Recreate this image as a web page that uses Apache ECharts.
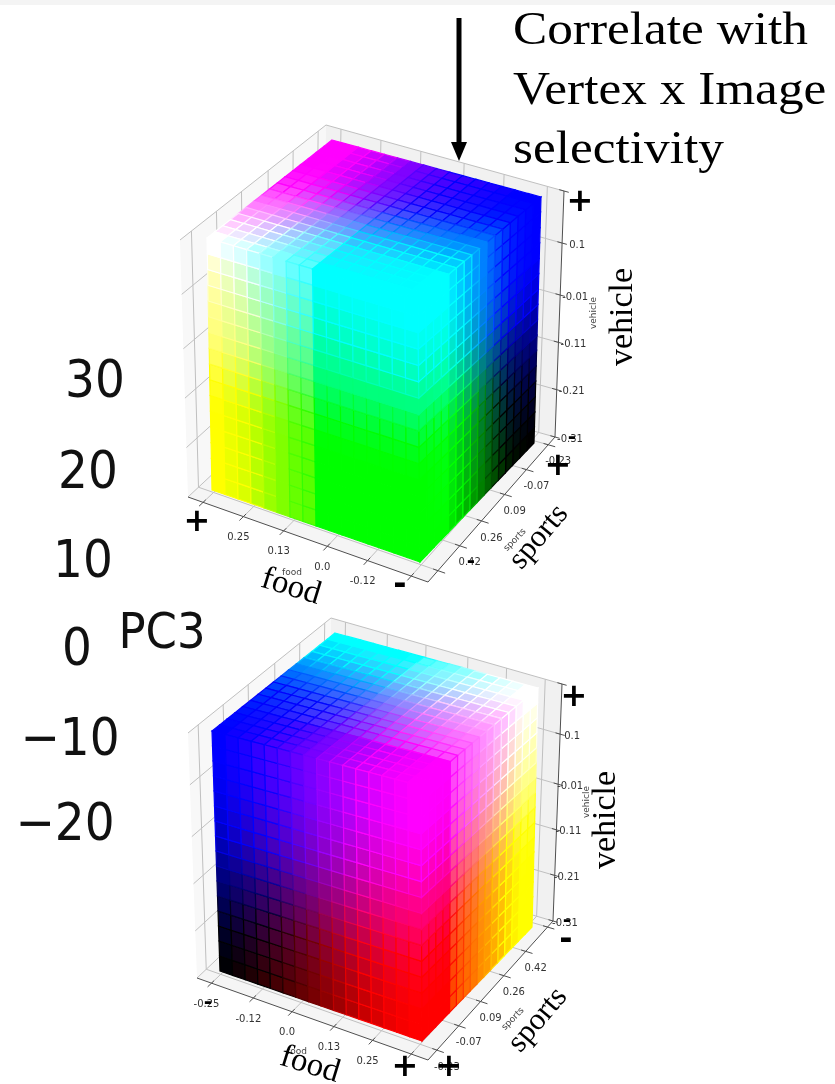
<!DOCTYPE html>
<html><head><meta charset="utf-8">
<style>html,body{margin:0;padding:0;background:#fff}
#c,#o{position:absolute;left:0;top:0;width:835px;height:1084px}
#c{filter:blur(0.45px)}</style>
<script src="https://cdn.jsdelivr.net/npm/echarts@6/dist/echarts.min.js"></script>
</head><body><div id="c"></div><div id="o"></div>
<script>
// ---------- colour channels read per voxel layer (16 voxels along each side) ----------
// upper cube
const topRedBack    = [1,1,.9,.8,.7,.6,.5,.42,.35,.28,.22,.16,.1,.05,0,0];
const topRedFront   = [1,.92,.85,.72,.6,.5,.4,.35,0,0,0,0,0,0,0,0];
const topGreenLeft  = [0,0,0,0,.02,.07,.15,.24,.33,.42,.5,.6,.7,.8,.9,1];
const topGreenRight = [0,.02,.05,.1,.2,.3,.4,.5,.6,.7,.8,.9,1,1,1,1];
const topBlueLeft   = [0,0,0,0,0,.02,.1,.22,.34,.44,.5,.55,.62,.7,.82,1];
const topBlueFront  = [0,0,0,0,0,.02,.1,.22,.36,.5,.63,.75,.86,.94,1,1];
const topBlueRight  = [0,.06,.14,.22,.3,.38,.47,.56,.66,.78,.88,.95,1,1,1,1];
// lower cube
const lowRedBack    = [0,0,0,0,0,0,.05,.3,.38,.45,.55,.65,.75,.85,.93,1];
const lowRedFront   = [0,.06,.12,.2,.27,.33,.4,.47,.55,.62,.7,.78,.85,.92,.97,1];
const lowGreenLeft  = [1,.9,.8,.72,.62,.52,.42,.33,.25,.2,.15,.11,.07,.04,.02,0];
const lowGreenRight = [1,1,.95,.85,.75,.68,.6,.55,.47,.42,.36,.28,0,0,0,0];
const lowBlueLeft   = [.02,.08,.15,.24,.32,.42,.5,.6,.7,.78,.85,.9,.95,.98,1,1];
const lowBlueFront  = [0,0,.03,.08,.15,.25,.35,.45,.55,.66,.76,.86,.94,1,1,1];
const lowBlueRight  = [0,0,0,0,0,.03,.1,.2,.32,.42,.52,.62,.7,.8,.9,1];
// ---------- axis ticks ----------
const topFoodTicks     = [0.37,0.25,0.13,0.0,-0.12,-0.25];
const topFoodLabels    = ['','0.25','0.13','0.0','-0.12',''];
const topSportsTicks   = [0.58,0.42,0.26,0.09,-0.07,-0.23];
const topSportsLabels  = ['','0.42','0.26','0.09','-0.07','-0.23'];
const lowFoodTicks     = [-0.25,-0.12,0.0,0.13,0.25,0.37];
const lowFoodLabels    = ['-0.25','-0.12','0.0','0.13','0.25',''];
const lowSportsTicks   = [-0.23,-0.07,0.09,0.26,0.42,0.58];
const lowSportsLabels  = ['-0.23','-0.07','0.09','0.26','0.42',''];
const vehicleTicks     = [-0.31,-0.21,-0.11,-0.01,0.1,0.21];
const vehicleLabels    = ['-0.31','-0.21','-0.11','-0.01','0.1',''];
const pcTickLabels     = ['30','20','10','0','\u221210','\u221220'];
const noteLines        = ['Correlate with','Vertex x Image','selectivity'];

// ---------- scene layout (picture-plane anchors of each box and voxel block) ----------
const scenes = [{
  box:{L0:[188,497],F0:[428,582],R0:[555,437],B0:[322,372],L1:[180,240],F1:[430,300],R1:[564,191],B1:[326,125]},
  cube:{L0:[212,490],F0:[420,562],R0:[534,443],B0:[335,385],L1:[207,238],F1:[418,300],R1:[541,197],B1:[332,140]},
  rB:topRedBack,rF:topRedFront,gL:topGreenLeft,gR:topGreenRight,bL:topBlueLeft,bF:topBlueFront,bR:topBlueRight,seamPow:3,
  food:{ticks:topFoodTicks,labels:topFoodLabels,a:v=>(0.415-v)/0.715},
  sports:{ticks:topSportsTicks,labels:topSportsLabels,b:v=>(v+0.28)/0.933},
  vOff:15
},{
  box:{L0:[197,978],F0:[428,1060],R0:[553,921],B0:[327,855],L1:[188,733],F1:[432,790],R1:[562,684],B1:[331,618]},
  cube:{L0:[220,971],F0:[422,1041],R0:[532,927],B0:[340,865],L1:[212,731],F1:[421,786],R1:[538,688],B1:[335,633]},
  rB:lowRedBack,rF:lowRedFront,gL:lowGreenLeft,gR:lowGreenRight,bL:lowBlueLeft,bF:lowBlueFront,bR:lowBlueRight,seamPow:.3,
  food:{ticks:lowFoodTicks,labels:lowFoodLabels,a:v=>(v+0.295)/0.717},
  sports:{ticks:lowSportsTicks,labels:lowSportsLabels,b:v=>(0.62-v)/0.915},
  vOff:12
}];
const vehicleC = v => (v+0.31)/0.52;

function lerp(p,q,t){return [p[0]+(q[0]-p[0])*t,p[1]+(q[1]-p[1])*t];}
function mix(x,y,t){return x+(y-x)*t;}
function project(k,a,b,c){
  const f=lerp(lerp(k.B0,k.R0,a),lerp(k.L0,k.F0,a),b);
  const t=lerp(lerp(k.B1,k.R1,a),lerp(k.L1,k.F1,a),b);
  return lerp(f,t,c);
}
function byte(v){return Math.round(Math.max(0,Math.min(1,v))*255);}
function fillOf(r,g,b){return 'rgb('+byte(r)+','+byte(g)+','+byte(b)+')';}
function edgeOf(r,g,b){return 'rgb('+byte(2*r-.5)+','+byte(2*g-.5)+','+byte(2*b-.5)+')';}

const N=16;
const prims=[];      // panes, grid, axes, ticks, tick labels
const cells=[];      // voxel faces
scenes.forEach(s=>{
  const k=s.box;
  const pane=(pts,fill)=>prims.push({kind:'poly',pts,fill});
  const seg=(p,q,color,w)=>prims.push({kind:'line',p,q,color,w});
  pane([project(k,0,0,0),project(k,0,1,0),project(k,1,1,0),project(k,1,0,0)],'#f5f5f5');
  pane([project(k,0,0,0),project(k,0,1,0),project(k,0,1,1),project(k,0,0,1)],'#f8f8f8');
  pane([project(k,0,0,0),project(k,1,0,0),project(k,1,0,1),project(k,0,0,1)],'#f1f1f1');
  const grid='#c0c0c0';
  s.food.ticks.forEach(v=>{const a=s.food.a(v);
    seg(project(k,a,0,0),project(k,a,1,0),grid,1);
    seg(project(k,a,0,0),project(k,a,0,1),grid,1);});
  s.sports.ticks.forEach(v=>{const b=s.sports.b(v);
    seg(project(k,0,b,0),project(k,1,b,0),grid,1);
    seg(project(k,0,b,0),project(k,0,b,1),grid,1);});
  vehicleTicks.forEach(v=>{const c=vehicleC(v);
    seg(project(k,0,1,c),project(k,0,0,c),grid,1);
    seg(project(k,0,0,c),project(k,1,0,c),grid,1);});
  const ax='#505050';
  seg(project(k,0,1,0),project(k,1,1,0),ax,1);
  seg(project(k,1,1,0),project(k,1,0,0),ax,1);
  seg(project(k,1,0,0),project(k,1,0,1),ax,1);
  const lab=(p,text)=>{ if(text) prims.push({kind:'text',p,text}); };
  s.food.ticks.forEach((v,i)=>{const a=s.food.a(v);
    const p=project(k,a,1,0);
    seg(project(k,a,.98,0),project(k,a,1.03,0),ax,1);
    lab([p[0]-5,p[1]+21],s.food.labels[i]);});
  s.sports.ticks.forEach((v,i)=>{const b=s.sports.b(v);
    const p=project(k,1,b,0);
    seg(project(k,.98,b,0),project(k,1.03,b,0),ax,1);
    lab([p[0]+10,p[1]+17],s.sports.labels[i]);});
  vehicleTicks.forEach((v,i)=>{const c=vehicleC(v);
    const p=project(k,1,0,c);
    seg(project(k,.98,0,c),project(k,1.02,0,c),ax,1);
    lab([p[0]+s.vOff,p[1]+2],vehicleLabels[i]);});

  const q=s.cube, d=1/N, last=N-1;
  const quad=(pts,r,g,b)=>cells.push({pts,fill:fillOf(r,g,b),edge:edgeOf(r,g,b)});
  const greenAt=(i,j)=>mix(s.gL[j],s.gR[j],i/last);
  for(let i=0;i<N;i++)for(let j=0;j<N;j++){
    const u=i*d,v=j*d;
    // top face: i along food, j along sports
    quad([project(q,u,v,1),project(q,u+d,v,1),project(q,u+d,v+d,1),project(q,u,v+d,1)],
      mix(s.rB[i],s.rF[i],Math.pow(j/last,s.seamPow)),greenAt(i,j),1);
    // left face: i along food, j up vehicle
    quad([project(q,u,1,v),project(q,u+d,1,v),project(q,u+d,1,v+d),project(q,u,1,v+d)],
      s.rF[i],greenAt(i,last),mix(s.bL[j],s.bF[j],i/last));
    // right face: i along sports, j up vehicle
    quad([project(q,1,u,v),project(q,1,u+d,v),project(q,1,u+d,v+d),project(q,1,u,v+d)],
      s.rF[last],s.gR[i],mix(s.bR[j],s.bF[j],i/last));
  }
});

const polyShape=(api,pts)=>pts.map(p=>api.coord(p));
const plane={grid:{left:0,right:0,top:0,bottom:0},
  xAxis:{type:'value',min:0,max:835,show:false},
  yAxis:{type:'value',min:0,max:1084,inverse:true,show:false}};

const T=(text,x,y,size,family,e)=>{e=e||{};return {type:'text',z:10,silent:true,x,y,rotation:e.rot||0,scaleX:e.sx||1,scaleY:e.sy||1,
  style:{text,x:0,y:0,fill:e.fill||'#000',font:(e.weight||'')+' '+size+'px '+family,align:e.align||'center',verticalAlign:'middle'}};};
const serif='"Liberation Serif"', sans='"DejaVu Sans"', Q=Math.PI/2;

// lower layer: the soft, image-like part of the figure
const soft=[];
soft.push({type:'rect',z:0,silent:true,shape:{x:0,y:0,width:835,height:5},style:{fill:'#f4f4f4'}});
const pcX=[95,88,83,77,70,65], pcY=[384,475,564,652,742,827];
pcTickLabels.forEach((t,i)=>soft.push(T(t,pcX[i],pcY[i],47,sans,{fill:'#111',sy:1.1})));
soft.push(T('PC3',162,635,45,sans,{fill:'#111',sy:1.1}));
[['vehicle',594,313,Q],['sports',515,540,.8],['food',292,573,0],
 ['vehicle',587,802,Q],['sports',513,1019,.8],['food',297,1052,0]].forEach(a=>soft.push(T(a[0],a[1],a[2],9,sans,{rot:a[3],fill:'#444'})));

echarts.init(document.getElementById('c'),null,{renderer:'canvas'}).setOption(Object.assign({
  animation:false,
  backgroundColor:'#ffffff',
  series:[{
    type:'custom',coordinateSystem:'cartesian2d',silent:true,clip:false,z:1,
    data:prims.map((_,i)=>[i,0]),
    renderItem(params,api){
      const o=prims[params.dataIndex];
      if(o.kind==='poly')return{type:'polygon',shape:{points:polyShape(api,o.pts)},style:{fill:o.fill,stroke:null}};
      if(o.kind==='line'){const a=api.coord(o.p),b=api.coord(o.q);
        return{type:'line',shape:{x1:a[0],y1:a[1],x2:b[0],y2:b[1]},style:{stroke:o.color,lineWidth:o.w}};}
      const p=api.coord(o.p);
      return{type:'text',style:{text:o.text,x:p[0],y:p[1],fill:'#333333',font:'10px "DejaVu Sans"',align:'center',verticalAlign:'middle'}};
    }
  },{
    type:'custom',coordinateSystem:'cartesian2d',silent:true,clip:false,z:2,
    data:cells.map((_,i)=>[i,0]),
    renderItem(params,api){
      const o=cells[params.dataIndex];
      return{type:'polygon',shape:{points:polyShape(api,o.pts)},style:{fill:o.fill,stroke:o.edge,lineWidth:1.2}};
    }
  }],
  graphic:{elements:soft}
},plane));

// upper layer: crisp annotations
const crisp=[];
crisp.push({type:'rect',z:10,silent:true,shape:{x:456.5,y:18,width:5,height:126},style:{fill:'#000'}});
crisp.push({type:'polygon',z:10,silent:true,shape:{points:[[451,142],[467,142],[459,161]]},style:{fill:'#000'}});
noteLines.forEach((t,i)=>crisp.push(T(t,513,32+i*59.5,46,serif,{align:'left',sx:1.115})));
[['vehicle',623,317,Q,34],['sports',539,537,.87,31],['food',291,587,-.3,33],
 ['vehicle',606,820,Q,34],['sports',538,1020,.87,31],['food',310,1065,-.3,33]].forEach(a=>crisp.push(T(a[0],a[1],a[2],a[4],serif,{rot:a[3]})));
[['+',580,203],['+',197,523],['+',558,467],['+',574,698],['+',405,1068],['+',449,1068]].forEach(a=>crisp.push(T(a[0],a[1],a[2],32,sans,{weight:'bold'})));
[['-',400,586],['-',566,941],['-',572,438],['-',471,562],['-',208,1003],['-',567,921]].forEach((a,i)=>crisp.push(T(a[0],a[1],a[2],i<2?32:20,sans,{weight:'bold'})));
echarts.init(document.getElementById('o'),null,{renderer:'canvas'}).setOption({
  animation:false,backgroundColor:'transparent',graphic:{elements:crisp}});
</script></body></html>
